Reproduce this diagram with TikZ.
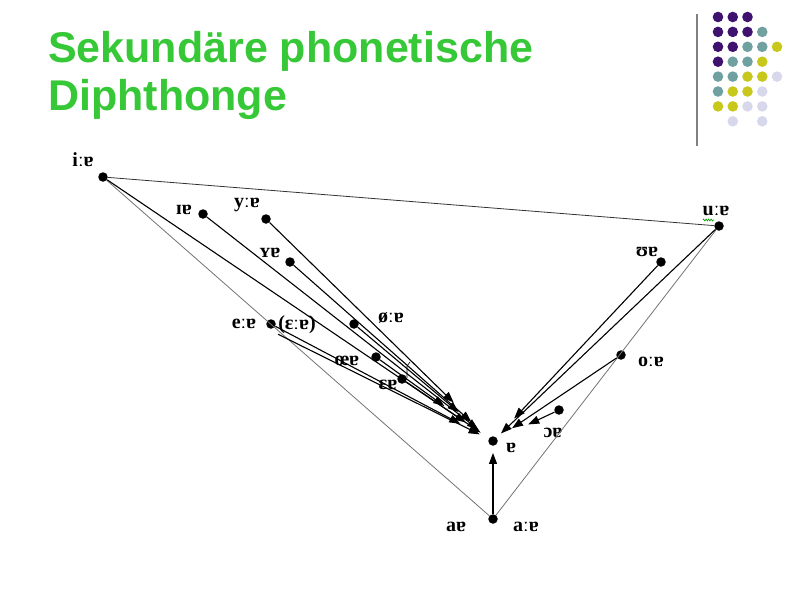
\documentclass[tikz,border=0pt]{standalone}
\usepackage{fontspec}
\setmainfont{Liberation Serif}
\newfontfamily\titlefont{Liberation Sans}
\usetikzlibrary{arrows.meta,decorations.pathmorphing}
\definecolor{titlegreen}{RGB}{55,200,55}
\definecolor{decpurple}{RGB}{62,18,110}
\definecolor{decteal}{RGB}{112,160,160}
\definecolor{decyellow}{RGB}{200,200,28}
\definecolor{declilac}{RGB}{216,216,236}
\tikzset{vdot/.style={circle,fill=black,inner sep=0pt,minimum size=9.5pt},
  lab/.style={font=\fontsize{20}{20}\selectfont\bfseries,inner sep=0pt},
  arr/.style={-{Triangle[length=11pt,width=8pt]},line width=1.1pt},
  hull/.style={line width=0.8pt,black!55}}
\begin{document}
\begin{tikzpicture}[x=1pt,y=-1pt]
\useasboundingbox (0,0) rectangle (800,600);
\node[anchor=base west,inner sep=0pt,text=titlegreen,font=\titlefont\bfseries\fontsize{43}{43}\selectfont] (title1) at (48,62) {Sekundäre phonetische};
\node[anchor=base west,inner sep=0pt,text=titlegreen,font=\titlefont\bfseries\fontsize{43}{43}\selectfont] (title2) at (48,110) {Diphthonge};
\draw[gray,line width=1.5pt] (697,14) -- (697,146);
\foreach \c/\r/\col in {0/0/decpurple,1/0/decpurple,2/0/decpurple,
  0/1/decpurple,1/1/decpurple,2/1/decpurple,3/1/decteal,
  0/2/decpurple,1/2/decpurple,2/2/decteal,3/2/decteal,4/2/decyellow,
  0/3/decpurple,1/3/decteal,2/3/decteal,3/3/decyellow,
  0/4/decteal,1/4/decteal,2/4/decyellow,3/4/decyellow,4/4/declilac,
  0/5/decteal,1/5/decyellow,2/5/decyellow,3/5/declilac,
  0/6/decyellow,1/6/decyellow,2/6/declilac,3/6/declilac,
  1/7/declilac,3/7/declilac}
  \fill[\col] (718+14.75*\c,17+14.9*\r) circle (5.3);

\node[vdot] (ii) at (103,177) {};
\node[vdot] (ih) at (203,214) {};
\node[vdot] (yy) at (266,219) {};
\node[vdot] (yh) at (290,262) {};
\node[vdot] (ee) at (271,324) {};
\node[vdot] (oe) at (354,324) {};
\node[vdot] (oeh) at (376,357) {};
\node[vdot] (eh) at (402,379) {};
\node[vdot] (schwa) at (493,441) {};
\node[vdot] (uu) at (719,226) {};
\node[vdot] (uh) at (661,262) {};
\node[vdot] (oo) at (621,355) {};
\node[vdot] (oh) at (559,410) {};
\node[vdot] (aa) at (493,519) {};

\node[lab] (ii-l) at (83,160) {iːɐ};
\node[lab] (ih-l) at (184,210) {ɪɐ};
\node[lab] (yy-l) at (247,205) {yːɐ};
\node[lab] (yh-l) at (270,253) {ʏɐ};
\node[lab] (ee-l) at (244,324) {eːɐ};
\node[lab] (eel-l) at (297,325) {(ɛːɐ)};
\node[lab] (oe-l) at (391,318) {øːɐ};
\node[lab] (oeh-l) at (347,361) {œɐ};
\node[lab] (eh-l) at (388,385) {ɛɐ};
\node[lab] (schwa-l) at (511,448) {ɐ};
\node[lab] (uu-l) at (716,211) {uːɐ};
\node[lab] (uh-l) at (647,252) {ʊɐ};
\node[lab] (oo-l) at (651,362) {oːɐ};
\node[lab] (oh-l) at (553,433) {ɔɐ};
\node[lab] (a-l) at (456,527) {aɐ};
\node[lab] (aa-l) at (526,527) {aːɐ};

\draw[hull,black!80] (ii) -- (uu);
\draw[hull] (ii) -- (aa);
\draw[hull] (uu) -- (aa);

\draw[arr,shorten >=10pt] (ii) -- (schwa);
\draw[arr,shorten >=14pt] (ih) -- (schwa);
\draw[arr,shorten >=50pt] (yy) -- (schwa);
\draw[arr,shorten >=24pt] (yh) -- (schwa);
\draw[arr,shorten >=32pt] (ee) -- (schwa);
\draw[arr,shorten >=10pt] (eel-l.south west) -- (schwa);
\draw[arr,shorten >=40pt] (oe) -- (schwa);
\draw[arr,shorten >=55pt] (oeh) -- (schwa);
\draw[arr,shorten >=28pt] (eh) -- (schwa);
\draw[arr,shorten >=6pt] (uu) -- (schwa);
\draw[arr,shorten >=26pt] (uh) -- (schwa);
\draw[arr,shorten >=18pt] (oo) -- (schwa);
\draw[arr,shorten >=34pt] (oh) -- (schwa);
\draw[arr,shorten >=7pt] (aa) -- (schwa);

\draw[line width=0.6pt] (407,378) -- (407,366) -- (410,362);
\draw[decorate,decoration={zigzag,segment length=2.5pt,amplitude=1pt},green!60!black,line width=0.6pt] (703,220) -- (714,220);
\end{tikzpicture}
\end{document}
